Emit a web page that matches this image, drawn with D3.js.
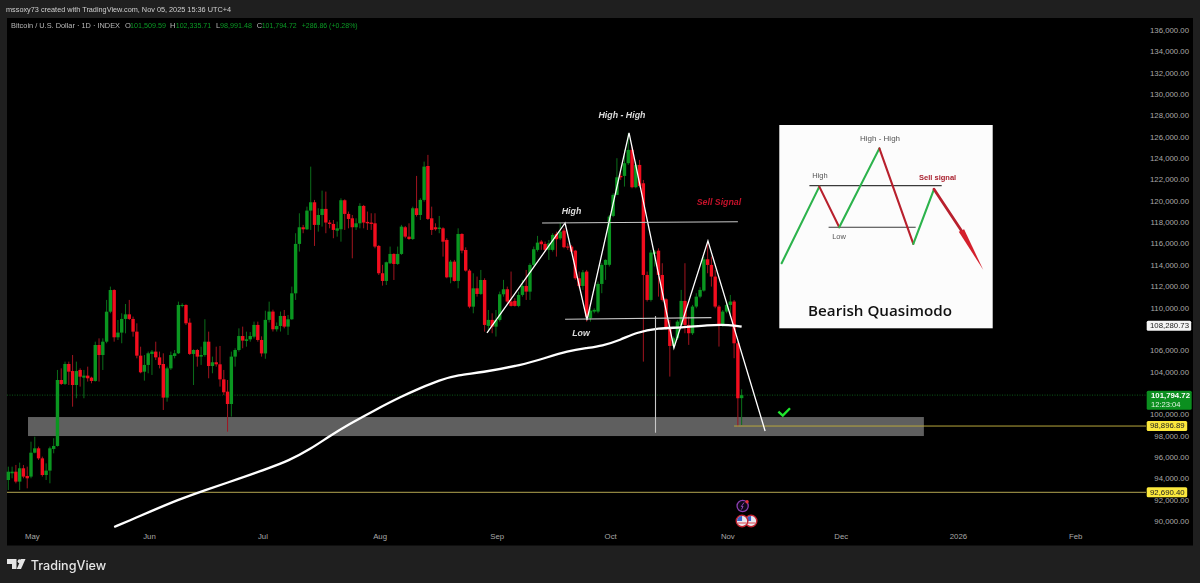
<!DOCTYPE html>
<html><head><meta charset="utf-8">
<script src="https://cdn.jsdelivr.net/npm/d3@7"></script>
<style>
html,body{margin:0;padding:0;background:#1f1f1f;overflow:hidden}
svg{display:block;filter:blur(.35px)}
text{font-family:"Liberation Sans",Arial,sans-serif}
</style></head><body>
<svg id="c" width="1200" height="583"></svg>
<script>
// Daily candles, [open, high, low, close], thousands of USD, consecutive days
const firstCandleDay = "2025-04-25";
const candlesApr = [[93.84,95.09,92.90,94.62],[94.47,95.09,94.0,94.62],[94.62,95.25,93.53,93.69],[93.69,95.47,92.90,94.94],[94.94,95.25,94.0,94.16],[94.22,95.09,93.06,94.0]];
const candlesMay = [[94.16,97.43,94.0,96.40],[96.40,97.90,96.34,96.81],[96.81,96.97,95.72,95.87],[95.87,96.03,94.16,94.31],[94.31,95.40,93.84,94.72],[94.72,96.97,93.53,96.81],[96.75,97.75,96.34,97.03],[97.03,104.15,96.97,103.21],[103.21,104.3,102.74,102.84],[102.84,104.93,102.74,104.71],[104.71,104.93,102.74,103.99],[104.05,105.55,100.71,102.74],[102.74,104.93,101.5,104.05],[104.15,104.3,102.59,103.52],[103.43,104.15,101.5,103.62],[103.62,104.46,103.06,103.37],[103.43,103.52,102.9,103.12],[103.12,106.8,103.06,106.49],[106.49,107.11,103.06,105.55],[105.55,107.11,104.15,106.8],[106.8,110.71,106.65,109.61],[109.61,111.96,109.46,111.64],[111.64,111.71,106.8,107.21],[107.21,108.83,106.96,107.65],[107.65,109.46,106.65,108.93],[108.93,110.33,107.58,109.36],[109.36,110.71,108.83,108.93],[108.93,109.15,107.27,107.74],[107.74,108.52,105.24,105.49],[105.49,106.33,103.84,103.93],[103.99,105.55,103.15,104.62]];
const candlesJun = [[104.62,105.87,103.84,105.71],[105.65,106.02,103.68,105.87],[105.87,106.8,105.08,105.33],[105.33,105.87,104.3,104.62],[104.71,105.71,100.4,101.56],[101.56,104.46,101.18,104.3],[104.3,105.87,104.15,105.55],[105.46,106.02,105.24,105.71],[105.71,110.55,105.65,110.24],[110.15,110.4,110.02,110.24],[110.24,110.3,108.36,108.52],[108.58,108.99,105.55,105.65],[105.65,106.08,102.74,106.02],[106.02,106.12,104.46,105.4],[105.4,106.33,104.62,105.55],[105.55,108.9,105.4,106.8],[106.8,107.74,103.37,104.52],[104.52,105.4,103.84,104.87],[104.87,106.33,104.46,104.68],[104.68,106.4,102.59,103.27],[103.27,104.15,101.81,102.06],[102.12,103.21,98.37,100.96],[100.96,105.87,99.78,105.4],[105.4,106.18,104.46,106.02],[106.02,108.05,105.87,107.33],[107.33,108.21,106.18,106.9],[106.87,107.74,106.33,107.02],[107.02,107.7,106.8,107.33],[107.27,108.68,107.1,108.37],[108.37,108.68,106.8,106.96]];
const candlesJul = [[106.96,107.3,105.4,105.7],[105.7,109.7,105.2,108.84],[108.84,110.55,108.6,109.62],[109.62,109.8,107.75,107.96],[107.96,108.6,107.75,108.27],[108.27,109.62,107.75,109.21],[109.21,109.77,108.05,108.21],[108.21,109.3,107.43,108.9],[108.9,111.96,108.84,111.33],[111.33,116.96,110.71,115.96],[115.96,118.83,115.24,117.52],[117.52,117.74,116.96,117.33],[117.33,119.45,117.27,119.08],[119.08,123.2,117.27,119.86],[119.86,120.08,115.77,117.74],[117.74,119.3,117.11,118.67],[118.67,120.95,117.58,119.24],[119.24,120.86,116.96,117.96],[117.96,118.2,117.42,117.83],[117.83,118.2,116.49,117.27],[117.2,118.05,116.64,117.42],[117.33,120.23,116.17,120.05],[120.05,120.14,117.27,118.77],[118.77,118.99,117.42,118.3],[118.36,118.67,114.61,117.52],[117.52,118.36,117.27,117.89],[117.89,119.77,117.42,119.52],[119.52,119.61,117.42,117.96],[118.02,118.99,117.27,117.89],[117.96,118.83,117.27,117.83],[117.89,118.83,115.55,115.71]];
const candlesAug = [[115.77,115.86,113.05,113.21],[113.21,114.0,112.05,112.49],[112.49,114.3,112.11,114.24],[114.14,115.71,114.08,115.02],[115.02,115.08,112.58,114.08],[114.08,115.71,113.99,115.02],[115.02,117.74,114.93,117.58],[117.52,117.64,116.49,116.64],[116.64,117.89,116.33,116.42],[116.42,119.45,116.33,119.3],[119.3,122.33,118.52,118.67],[118.67,120.23,118.2,120.08],[120.08,123.67,119.92,123.2],[123.26,124.3,118.2,118.3],[118.36,119.45,116.8,117.27],[117.52,117.89,117.2,117.33],[117.36,118.58,116.96,117.49],[117.42,117.52,114.77,116.17],[116.33,116.49,112.74,112.83],[112.83,114.46,112.27,114.3],[114.3,114.46,112.43,112.49],[112.49,117.42,111.8,116.89],[116.89,116.96,115.08,115.33],[115.39,115.64,113.36,113.46],[113.46,113.6,109.93,110.08],[110.08,113.21,109.46,111.8],[111.8,112.9,111.02,111.27],[111.27,113.52,111.18,112.58],[112.58,112.74,107.74,108.37],[108.28,109.77,107.75,108.84],[108.84,109.46,107.59,108.21]];
const candlesSep = [[108.21,109.77,107.28,108.84],[108.84,111.49,108.68,111.24],[111.24,112.59,111.02,111.71],[111.71,111.96,110.4,110.56],[110.56,113.37,110.09,110.15],[110.62,110.87,110.09,110.15],[110.15,111.49,110.03,111.18],[111.18,112.59,111.02,112.02],[112.02,113.52,110.71,111.49],[111.49,114.15,110.71,113.99],[113.99,115.71,113.84,115.46],[115.4,116.71,115.24,116.08],[116.18,116.33,115.4,115.93],[115.96,116.18,115.24,115.4],[115.4,116.33,114.46,116.02],[115.4,116.96,115.24,116.8],[116.9,117.11,114.77,116.4],[116.48,117.9,116.33,117.11],[117.21,117.43,115.55,115.65],[115.71,116.02,115.4,115.62],[115.71,115.86,115.08,115.24],[115.33,115.4,112.59,112.74],[112.74,113.37,111.8,112.02],[112.02,113.52,111.65,113.3],[113.37,113.52,108.68,109.15],[109.0,109.93,108.68,109.71],[109.62,109.93,109.46,109.78],[109.62,112.43,109.46,112.21],[112.21,114.15,111.34,113.99],[113.99,114.52,112.59,114.46]];
const candlesOct = [[114.0,118.68,113.84,118.52],[118.58,120.7,118.46,120.55],[120.55,123.99,120.55,122.2],[122.33,122.73,121.95,122.2],[122.33,124.77,121.33,123.52],[123.52,126.33,123.36,124.77],[124.77,125.08,121.17,121.27],[121.27,123.67,121.17,123.36],[123.36,123.83,121.27,121.39],[121.64,121.95,104.93,113.05],[113.05,113.37,110.56,110.71],[110.71,115.4,110.56,115.15],[115.02,115.4,113.84,115.24],[115.33,115.55,111.02,113.05],[113.05,114.15,110.56,110.71],[110.77,110.87,107.9,108.06],[108.12,108.84,103.53,106.4],[106.4,107.28,106.18,107.12],[107.12,108.84,106.96,108.68],[108.37,111.65,108.21,110.62],[110.62,114.15,107.59,108.37],[108.37,109.15,106.5,107.59],[107.59,110.24,107.43,110.09],[110.09,111.34,109.93,111.02],[111.02,111.9,110.87,111.65],[111.59,114.77,111.49,114.52],[114.52,116.18,113.21,113.99],[113.99,114.77,111.96,112.9],[112.9,113.52,109.93,110.09],[110.09,110.24,106.34,108.37],[108.37,109.77,108.21,109.62]];
const candlesNov = [[109.62,110.55,109.46,110.24],[110.24,111.18,109.15,110.56],[110.56,110.71,105.25,106.65],[106.65,106.81,98.85,101.5],[101.51,102.34,98.99,101.79]];
// 200-day moving average, thousands of USD
const maDates = ["2025-05-23","2025-05-28","2025-06-01","2025-06-09","2025-06-16","2025-06-25","2025-07-03","2025-07-08","2025-07-14","2025-07-19","2025-07-24","2025-07-31","2025-08-07","2025-08-12","2025-08-17","2025-08-22","2025-08-28","2025-09-08","2025-09-14","2025-09-20","2025-09-25","2025-09-29","2025-10-04","2025-10-08","2025-10-14","2025-10-20","2025-10-27","2025-11-02","2025-11-05"];
const maValues = [89.44,90.19,90.8,92.0,92.9,93.94,94.97,95.62,96.75,97.96,99.04,100.4,101.67,102.46,103.2,103.68,103.9,104.62,105.27,105.93,106.21,106.4,106.96,107.66,108.08,108.11,108.37,108.39,108.2];
// Drawn pattern
const zigzagDates = ["2025-08-29T15:00","2025-09-19T07:00","2025-09-25T02:00","2025-10-06T05:00","2025-10-18T02:00","2025-10-27T02:00","2025-11-11T05:00"];
const zigzagPrices = [107.62,117.92,108.83,126.36,106.21,116.24,98.43];
const greyLines = [
  {d:["2025-09-13T05:00","2025-11-04T00:00"],p:[117.92,118.04]},
  {d:["2025-09-19T07:00","2025-10-28T00:00"],p:[108.9,109.05]},
  {d:["2025-10-13T05:00","2025-10-13T05:00"],p:[109.2,98.27]}];
const zoneDates = ["2025-04-30T05:00","2025-12-23T05:00"];
const zonePrices = [99.74,97.96];
const checkDates = ["2025-11-14T17:00","2025-11-15T21:00","2025-11-17T19:00"];
const checkPrices = [100.24,99.87,100.56];
const notes = [
  {t:"High - High",d:"2025-10-04T08:00",p:128.0,c:"#dcdcdc"},
  {t:"High",d:"2025-09-21T00:00",p:119.0,c:"#dcdcdc"},
  {t:"Low",d:"2025-09-23T12:00",p:107.57,c:"#dcdcdc"},
  {t:"Sell Signal",d:"2025-10-30T00:00",p:119.8,c:"#c4122a"}];
const yTicks = d3.range(90000,136001,2000).filter(v=>v!==102000&&v!==108000);
const monthTicks = ["2025-05-01","2025-06-01","2025-07-01","2025-08-01","2025-09-01","2025-10-01","2025-11-01","2025-12-01","2026-01-01","2026-02-01"];
const monthLabels = ["May","Jun","Jul","Aug","Sep","Oct","Nov","Dec","2026","Feb"];
const lastPrice = 101794.72, countdown = "12:23:04", maTag = 108280.73, supportA = 98896.89, supportB = 92690.40;
// Inset sketch (0-100 on both axes)
const insetX = [1.1,18.75,28.1,46.9,62.8,72.5,86];
const insetY = [32,69.7,49.7,88.5,41.5,68.4,47];
const insetLines = [{x:[14.1,76.1],y:[70.2,70.2]},{x:[23.1,63.9],y:[49.7,49.7]}];
const insetHead = [[84.1,47.5],[86.6,48.7],[95.6,28.7]];
const insetNotes = [
  {t:"High - High",x:47.2,y:93.4,s:8,c:"#555",w:400},
  {t:"High",x:19,y:75,s:7.5,c:"#555",w:400},
  {t:"Low",x:28,y:45,s:7.5,c:"#555",w:400},
  {t:"Sell signal",x:74.2,y:74,s:7.5,c:"#a81e2c",w:700}];

const parse = s => s.length>10 ? d3.utcParse("%Y-%m-%dT%H:%M")(s) : d3.utcParse("%Y-%m-%d")(s);
const svg = d3.select("#c");
const x = d3.scaleUtc().domain([parse("2025-05-01"),parse("2026-02-01")]).range([31,1074.3]);
const y = d3.scaleLinear().domain([90000,136000]).range([521,30]);
const k = v => v*1000;
const fmt = d3.format(",.2f");

svg.append("rect").attr("x",7).attr("y",18).attr("width",1186).attr("height",527.5).attr("fill","#000");

// Axes
const yAxis = d3.axisRight(y).tickValues(yTicks).tickSize(0).tickFormat(fmt);
const gy = svg.append("g").attr("transform","translate(1189,0)").call(yAxis);
gy.select(".domain").remove();
gy.selectAll("text").attr("x",0).attr("text-anchor","end").attr("fill","#a8a8a8").style("font-size","7.8px").style("font-family","'Liberation Sans',sans-serif");
const xAxis = d3.axisBottom(x).tickValues(monthTicks.map(parse)).tickSize(0).tickFormat((d,i)=>monthLabels[i]);
const gx = svg.append("g").attr("transform","translate(0.8,533)").call(xAxis);
gx.select(".domain").remove();
gx.selectAll("text").attr("y",0).attr("dy",".71em").attr("fill","#a8a8a8").style("font-size","7.8px").style("font-family","'Liberation Sans',sans-serif");

// Last-price dotted line
svg.append("line").attr("x1",7).attr("x2",1146).attr("y1",y(lastPrice)).attr("y2",y(lastPrice)).attr("stroke","#0c5a18").attr("stroke-dasharray","1 1.5");

// Zone
svg.append("rect").attr("x",x(parse(zoneDates[0]))).attr("width",x(parse(zoneDates[1]))-x(parse(zoneDates[0])))
  .attr("y",y(k(zonePrices[0]))).attr("height",y(k(zonePrices[1]))-y(k(zonePrices[0])))
  .attr("fill","#5f5f5f");

// Candles
const rows = [...candlesApr,...candlesMay,...candlesJun,...candlesJul,...candlesAug,...candlesSep,...candlesOct,...candlesNov];
const start = parse(firstCandleDay);
const candles = rows.map((r,i)=>({date:d3.utcDay.offset(start,i),o:k(r[0]),h:k(r[1]),l:k(r[2]),c:k(r[3])}));
const G="#0a9620", R="#f20d1e", GW="#0b6e1a", RW="#a0141f";
const cg = svg.append("g").selectAll("g").data(candles).join("g");
cg.append("line").attr("x1",d=>x(d.date)).attr("x2",d=>x(d.date)).attr("y1",d=>y(d.h)).attr("y2",d=>y(d.l))
  .attr("stroke",d=>d.c>=d.o?GW:RW).attr("stroke-width",1);
cg.append("rect").attr("x",d=>x(d.date)-1.7).attr("width",3.4)
  .attr("y",d=>y(Math.max(d.o,d.c))).attr("height",d=>Math.max(1,Math.abs(y(d.o)-y(d.c))))
  .attr("fill",d=>d.c>=d.o?G:R);

// Support levels
svg.append("line").attr("x1",x(parse("2025-11-03"))).attr("x2",1146).attr("y1",y(supportA)).attr("y2",y(supportA)).attr("stroke","#b8a83c");
svg.append("line").attr("x1",7).attr("x2",1146).attr("y1",y(supportB)).attr("y2",y(supportB)).attr("stroke","#8f8440").attr("stroke-width",1.2);

// Moving average
const lineGen = d3.line().x(d=>x(d.d)).y(d=>y(d.v)).curve(d3.curveBasis);
svg.append("path").attr("d",lineGen(maDates.map((d,i)=>({d:parse(d),v:k(maValues[i])})))).attr("fill","none").attr("stroke","#fff").attr("stroke-width",2.3);

// Pattern
svg.append("path").attr("d",d3.line().x(d=>x(d.d)).y(d=>y(d.v))(zigzagDates.map((d,i)=>({d:parse(d),v:k(zigzagPrices[i])})))).attr("fill","none").attr("stroke","#fff").attr("stroke-width",1.3);
greyLines.forEach(l=>{
  svg.append("line").attr("x1",x(parse(l.d[0]))).attr("x2",x(parse(l.d[1]))).attr("y1",y(k(l.p[0]))).attr("y2",y(k(l.p[1]))).attr("stroke","#c8c8c8").attr("stroke-width",1.1);
});
svg.append("path").attr("d",d3.line().x(d=>x(d.d)).y(d=>y(d.v))(checkDates.map((d,i)=>({d:parse(d),v:k(checkPrices[i])})))).attr("fill","none").attr("stroke","#1ee62c").attr("stroke-width",2.4);
svg.selectAll("text.note").data(notes).join("text").attr("class","note")
  .attr("x",d=>x(parse(d.d))).attr("y",d=>y(k(d.p))).attr("text-anchor","middle").attr("dominant-baseline","middle")
  .attr("fill",d=>d.c).attr("font-size",8.8).attr("font-weight",700).attr("font-style","italic").text(d=>d.t);

// Events
const ex = x(parse("2025-11-05"));
svg.append("circle").attr("cx",ex+1).attr("cy",506).attr("r",5.6).attr("fill","#100818").attr("stroke","#8a3fb0").attr("stroke-width",1.3);
svg.append("path").attr("d",`M${ex+2.4},502.5L${ex-0.4},506.5L${ex+1.4},506.5L${ex-0.2},509.5`).attr("fill","none").attr("stroke","#9a4fc0").attr("stroke-width",.9);
svg.append("circle").attr("cx",ex+5.4).attr("cy",501.8).attr("r",1.7).attr("fill","#e8303a");
[ex+9.4,ex+0.4].forEach(cx=>{
  svg.append("circle").attr("cx",cx).attr("cy",521).attr("r",5.8).attr("fill","#e8e8f0").attr("stroke","#c2222f").attr("stroke-width",1.4);
  svg.append("path").attr("d",`M${cx-5},521A5,5 0 0 1 ${cx},516L${cx},521Z`).attr("fill","#3a62c8");
  svg.append("rect").attr("x",cx-4.5).attr("y",522.5).attr("width",9).attr("height",1).attr("fill","#d8404a");
});

// Price tags
function tag(val,w,h,bg,fg,txt,bold){
  svg.append("rect").attr("x",1146.7).attr("y",y(val)-h/2).attr("width",w).attr("height",h).attr("rx",1.5).attr("fill",bg);
  svg.append("text").attr("x",1150).attr("y",y(val)+0.2).attr("dominant-baseline","middle").attr("font-size",7.8).attr("font-weight",bold?700:400).attr("fill",fg).text(txt);
}
tag(maTag,44.5,10,"#f4f4f4","#222",fmt(maTag));
tag(supportA,40.5,10,"#fbe83c","#222",fmt(supportA));
tag(supportB,40.5,10,"#fbe83c","#222",fmt(supportB));
svg.append("rect").attr("x",1146.7).attr("y",390.7).attr("width",45).attr("height",19).attr("rx",1.5).attr("fill","#0b8f1f");
svg.append("text").attr("x",1151).attr("y",396).attr("dominant-baseline","middle").attr("font-size",7.8).attr("font-weight",700).attr("fill","#fff").text(fmt(lastPrice));
svg.append("text").attr("x",1151).attr("y",404.6).attr("dominant-baseline","middle").attr("font-size",7.6).attr("fill","#e4f4e4").text(countdown);

// Inset
const ix = d3.scaleLinear().domain([0,100]).range([779.3,992.7]);
const iy = d3.scaleLinear().domain([0,100]).range([328.3,125]);
svg.append("rect").attr("x",ix(0)).attr("y",iy(100)).attr("width",ix(100)-ix(0)).attr("height",iy(0)-iy(100)).attr("fill","#fcfcfc");
insetLines.forEach(l=>svg.append("line").attr("x1",ix(l.x[0])).attr("x2",ix(l.x[1])).attr("y1",iy(l.y[0])).attr("y2",iy(l.y[1])).attr("stroke","#3a3a3a").attr("stroke-width",1.2));
d3.pairs(d3.zip(insetX,insetY)).forEach(([a,b],i)=>{
  svg.append("line").attr("x1",ix(a[0])).attr("y1",iy(a[1])).attr("x2",ix(b[0])).attr("y2",iy(b[1]))
    .attr("stroke",i%2==0?"#2cb34c":"#b8202d").attr("stroke-width",i==5?2.8:2.1).attr("stroke-linecap","round");
});
svg.append("path").attr("d",d3.line().x(d=>ix(d[0])).y(d=>iy(d[1])).curve(d3.curveLinearClosed)(insetHead)).attr("fill","#d4202c");
svg.selectAll("text.inote").data(insetNotes).join("text").attr("class","inote")
  .attr("x",d=>ix(d.x)).attr("y",d=>iy(d.y)).attr("text-anchor","middle").attr("dominant-baseline","middle")
  .attr("fill",d=>d.c).attr("font-size",d=>d.s).attr("font-weight",d=>d.w).text(d=>d.t);
svg.append("text").attr("x",880).attr("y",312).attr("text-anchor","middle").attr("dominant-baseline","middle")
  .attr("font-size",15.2).attr("fill","#111").attr("font-weight",600).style("font-family","'Open Sans',sans-serif").text("Bearish Quasimodo");

// Header and legend
svg.append("text").attr("x",6).attr("y",12).attr("font-size",7.7).attr("fill","#cfcfcf").attr("textLength",225).attr("lengthAdjust","spacingAndGlyphs").text("mssoxy73 created with TradingView.com, Nov 05, 2025 15:36 UTC+4");
const gray="#b8b8b8", up="#0b9a25";
const legendParts = [["Bitcoin / U.S. Dollar · 1D · INDEX",11,gray,109],["O",125,gray],["101,509.59",130,up,36],["H",170,gray],["102,335.71",175.7,up,35.5],["L",216,gray],["98,991.48",220,up,32],["C",256.7,gray],["101,794.72",261.7,up,35],["+286.86 (+0.28%)",301.7,up,56]];
legendParts.forEach(([t,lx,c,w])=>{
  const s = svg.append("text").attr("x",lx).attr("y",28).attr("font-size",7.5).attr("fill",c).text(t);
  if(w) s.attr("textLength",w).attr("lengthAdjust","spacingAndGlyphs");
});

// Logo
const lf = svg.append("g").attr("fill","#e6e6e6");
lf.append("path").attr("d","M7,559H16.5V569H12V564H7Z");
lf.append("circle").attr("cx",19.6).attr("cy",561.2).attr("r",2);
lf.append("path").attr("d","M21,559H25.5L21,569H16.8Z");
svg.append("text").attr("x",30.7).attr("y",569.5).attr("font-size",12.6).attr("font-weight",500).attr("fill","#e6e6e6").style("font-family","Inter,sans-serif").text("TradingView");
</script>
</body></html>
